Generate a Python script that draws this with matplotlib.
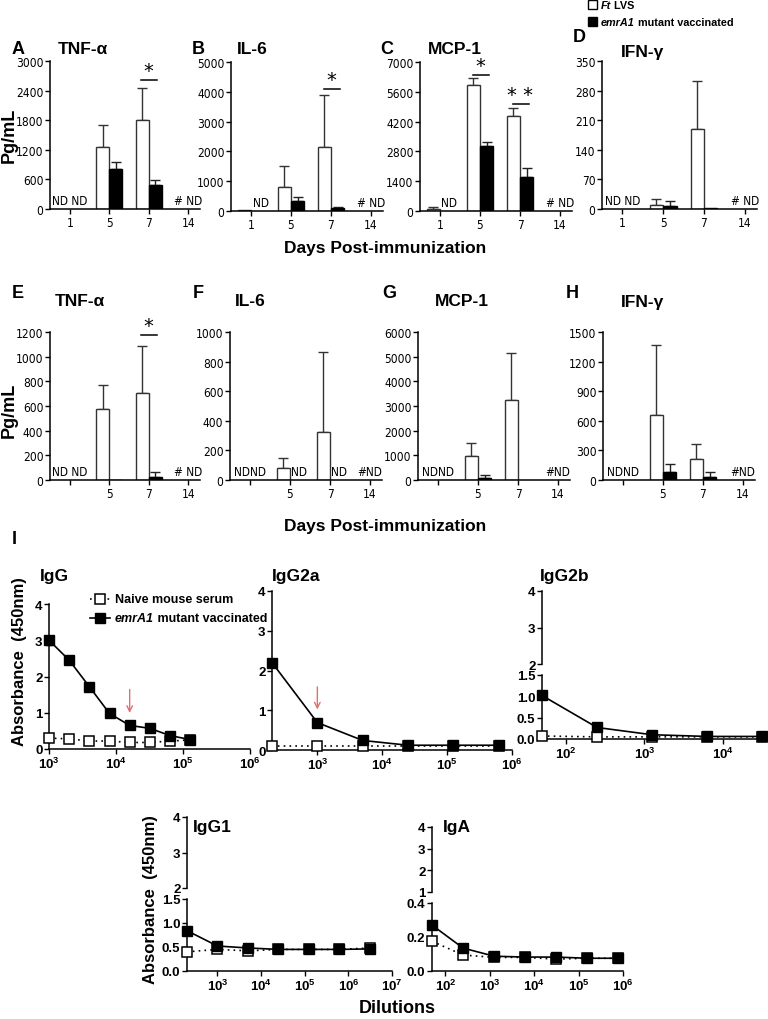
import matplotlib
matplotlib.use('Agg')
import matplotlib.pyplot as plt
import matplotlib.font_manager as fm
from matplotlib.font_manager import FontProperties
from matplotlib.lines import Line2D
from matplotlib.patches import Rectangle
from matplotlib.ticker import FixedLocator, NullLocator, LogLocator
import numpy as np

W, H = 768, 1020
plt.rcParams['font.family'] = ['Liberation Sans', 'DejaVu Sans']
plt.rcParams['mathtext.fontset'] = 'custom'
plt.rcParams['mathtext.rm'] = 'Liberation Sans'
plt.rcParams['mathtext.bf'] = 'Liberation Sans:bold'
plt.rcParams['mathtext.it'] = 'Liberation Sans:italic'


def find_narrow():
    best = None
    for f in fm.fontManager.ttflist:
        if f.style != 'normal' or f.weight not in (400, 'normal', 'regular'):
            continue
        nm = f.name.lower()
        st = str(f.stretch)
        if 'narrow' in nm or 'condensed' in nm or st in ('condensed', 'semi-condensed',
                                                          'extra-condensed'):
            score = 0 if ('narrow' in nm and 'liberation' in nm) else (
                1 if 'dejavu' in nm else 2)
            if best is None or score < best[0]:
                best = (score, f.fname)
    return best[1] if best else None


NARROW_FILE = find_narrow()


def narrow_fp(size):
    if NARROW_FILE:
        return FontProperties(fname=NARROW_FILE, size=size)
    return FontProperties(family='Liberation Sans', size=size - 1)


# ---------------- data ----------------
days = ['1', '5', '7', '14']
days_row2 = ['', '5', '7', '14']

# Row 1 (A-D)
tnf1_lvs = [0, 1250, 1800, 0];    tnf1_lvs_err = [0, 460, 650, 0]
tnf1_emr = [0, 810, 490, 0];      tnf1_emr_err = [0, 135, 95, 0]
il6_1_lvs = [25, 790, 2140, 0];   il6_1_lvs_err = [0, 730, 1760, 0]
il6_1_emr = [0, 340, 90, 0];      il6_1_emr_err = [0, 130, 55, 0]
mcp1_1_lvs = [80, 5930, 4480, 0]; mcp1_1_lvs_err = [100, 310, 350, 0]
mcp1_1_emr = [0, 3070, 1620, 0];  mcp1_1_emr_err = [0, 190, 420, 0]
ifn1_lvs = [0, 10, 189, 0];       ifn1_lvs_err = [0, 14, 114, 0]
ifn1_emr = [0, 6, 1.5, 0];        ifn1_emr_err = [0, 13, 0, 0]

# Row 2 (E-H)
tnf2_lvs = [0, 575, 706, 0];      tnf2_lvs_err = [0, 199, 377, 0]
tnf2_emr = [0, 4, 27, 0];         tnf2_emr_err = [0, 0, 38, 0]
il6_2_lvs = [0, 84, 326, 0];      il6_2_lvs_err = [0, 65, 538, 0]
il6_2_emr = [0, 0, 0, 0];         il6_2_emr_err = [0, 0, 0, 0]
mcp1_2_lvs = [0, 973, 3230, 0];   mcp1_2_lvs_err = [0, 513, 1932, 0]
mcp1_2_emr = [0, 95, 0, 0];       mcp1_2_emr_err = [0, 105, 0, 0]
ifn2_lvs = [0, 663, 217, 0];      ifn2_lvs_err = [0, 704, 146, 0]
ifn2_emr = [0, 83, 30, 0];        ifn2_emr_err = [0, 84, 50, 0]

# Antibody titres
igg_dil = [1000, 2000, 4000, 8000, 16000, 32000, 64000, 128000]
igg_naive = [0.30, 0.28, 0.22, 0.22, 0.18, 0.18, 0.22, 0.25]
igg_emr = [3.00, 2.45, 1.72, 0.98, 0.65, 0.57, 0.37, 0.26]
igg_emr_err = [0.12, 0.10, 0.05, 0.04, 0.04, 0.10, 0.05, 0.03]

igg2a_dil = [200, 1000, 5000, 25000, 125000, 625000]
igg2a_naive = [0.10, 0.10, 0.10, 0.10, 0.10, 0.10]
igg2a_emr = [2.20, 0.69, 0.24, 0.12, 0.12, 0.12]

igg2b_dil = [50, 250, 1250, 6250, 31250]
igg2b_naive = [0.07, 0.05, 0.05, 0.05, 0.05]
igg2b_emr = [1.02, 0.27, 0.10, 0.06, 0.06]

igg1_dil = [200, 1000, 5000, 25000, 125000, 625000, 3125000]
igg1_naive = [0.40, 0.45, 0.42, 0.45, 0.45, 0.45, 0.48]
igg1_emr = [0.84, 0.52, 0.48, 0.45, 0.45, 0.45, 0.46]

iga_dil = [50, 250, 1250, 6250, 31250, 156250, 781250]
iga_naive = [0.175, 0.094, 0.08, 0.08, 0.07, 0.075, 0.075]
iga_emr = [0.27, 0.135, 0.087, 0.082, 0.082, 0.075, 0.075]

# ---------------- figure ----------------
fig = plt.figure(figsize=(W / 100, H / 100), dpi=100)
renderer = fig.canvas.get_renderer()


def ax_px(l, t, r, b):
    return fig.add_axes([l / W, 1 - b / H, (r - l) / W, (b - t) / H])


def ftext(x, y, s, **kw):
    return fig.text(x / W, 1 - y / H, s, **kw)


def mixed(x, y, parts, size):
    for s, style in parts:
        t = ftext(x, y, s, fontsize=size, fontweight='bold', fontstyle=style,
                  va='center', ha='left')
        x += t.get_window_extent(renderer).width


def style_axes(ax):
    for s in ['top', 'right']:
        ax.spines[s].set_visible(False)
    for s in ['left', 'bottom']:
        ax.spines[s].set_linewidth(1.1)
    ax.tick_params(direction='out', length=3.5, width=1.0, pad=1.2)


BW = 0.33


def bar_panel(box, lvs, lvs_err, emr, emr_err, ymax, ystep, xlabels,
              notes, sig):
    ax = ax_px(*box)
    style_axes(ax)
    x = np.arange(len(days), dtype=float)
    lvs = np.array(lvs, float); emr = np.array(emr, float)
    lvs_err = np.array(lvs_err, float); emr_err = np.array(emr_err, float)
    m = lvs > 0
    ax.bar(x[m] - BW, lvs[m], width=BW, align='edge', color='white',
           edgecolor='#333333', lw=1.0, zorder=2)
    m2 = emr > 0
    ax.bar(x[m2], emr[m2], width=BW, align='edge', color='black',
           edgecolor='black', lw=1.0, zorder=2)
    me = lvs_err > 0
    ax.errorbar(x[me] - BW / 2, lvs[me], yerr=[np.zeros(me.sum()), lvs_err[me]],
                fmt='none', ecolor='#333333', elinewidth=1.0, capsize=3.5,
                capthick=1.0, zorder=1)
    me2 = emr_err > 0
    ax.errorbar(x[me2] + BW / 2, emr[me2], yerr=[np.zeros(me2.sum()), emr_err[me2]],
                fmt='none', ecolor='#222222', elinewidth=1.0, capsize=3.5,
                capthick=1.0, zorder=1)
    ax.set_xlim(-0.5, 3.3)
    ax.set_ylim(0, ymax)
    ax.set_yticks(np.arange(0, ymax + 1, ystep))
    ax.set_xticks(x)
    ax.set_xticklabels(xlabels)
    for lab in ax.get_xticklabels() + ax.get_yticklabels():
        lab.set_fontproperties(narrow_fp(8.6))
    for xi, s in notes:
        ax.annotate(s, (xi, 0), xytext=(0, 1.5), textcoords='offset points',
                    ha='center', va='bottom', fontproperties=narrow_fp(8.5))
    for xi, yv, s in sig:
        ax.plot([xi - BW / 2 - 0.02, xi + BW / 2 + 0.05], [yv, yv], color='black',
                lw=1.1, clip_on=False)
        ax.text(xi, yv, s, ha='center', va='bottom', fontsize=14,
                family='DejaVu Sans', clip_on=False)
    return ax


# Row 1
bar_panel((50, 62, 200, 210), tnf1_lvs, tnf1_lvs_err, tnf1_emr, tnf1_emr_err,
          3000, 600, days, [(0, 'ND ND'), (3, '# ND')], [(2, 2620, '*')])
bar_panel((231, 63, 383, 212), il6_1_lvs, il6_1_lvs_err, il6_1_emr, il6_1_emr_err,
          5000, 1000, days, [(0.25, 'ND'), (3, '# ND')], [(2, 4100, '*')])
bar_panel((420, 63, 572, 212), mcp1_1_lvs, mcp1_1_lvs_err, mcp1_1_emr, mcp1_1_emr_err,
          7000, 1400, days, [(0.22, 'ND'), (3, '# ND')],
          [(1, 6400, '*'), (2, 5030, '* *')])
bar_panel((602, 62, 757, 210), ifn1_lvs, ifn1_lvs_err, ifn1_emr, ifn1_emr_err,
          350, 70, days, [(0, 'ND ND'), (3, '# ND')], [])

# Row 2
bar_panel((50, 333, 200, 481), tnf2_lvs, tnf2_lvs_err, tnf2_emr, tnf2_emr_err,
          1200, 200, days_row2, [(0, 'ND ND'), (3, '# ND')], [(2, 1178, '*')])
bar_panel((230, 333, 382, 481), il6_2_lvs, il6_2_lvs_err, il6_2_emr, il6_2_emr_err,
          1000, 200, days_row2,
          [(0, 'NDND'), (1.22, 'ND'), (2.22, 'ND'), (3, '#ND')], [])
bar_panel((418, 333, 570, 481), mcp1_2_lvs, mcp1_2_lvs_err, mcp1_2_emr, mcp1_2_emr_err,
          6000, 1000, days_row2, [(0, 'NDND'), (3, '#ND')], [])
bar_panel((603, 333, 755, 481), ifn2_lvs, ifn2_lvs_err, ifn2_emr, ifn2_emr_err,
          1500, 300, days_row2, [(0, 'NDND'), (3, '#ND')], [])

# panel letters & titles
for (x, y, s) in [(12, 50, 'A'), (192, 50, 'B'), (380, 50, 'C'), (573, 38, 'D'),
                  (12, 293, 'E'), (193, 293, 'F'), (382, 293, 'G'), (566, 293, 'H'),
                  (12, 540, 'I')]:
    ftext(x, y, s, fontsize=13, fontweight='bold', ha='left', va='center')
for (x, y, s) in [(83, 50, 'TNF-α'), (252, 50, 'IL-6'), (455, 50, 'MCP-1'),
                  (643, 52, 'IFN-γ'),
                  (80, 302, 'TNF-α'), (250, 302, 'IL-6'), (462, 302, 'MCP-1'),
                  (642, 302, 'IFN-γ')]:
    ftext(x, y, s, fontsize=12.5, fontweight='bold', ha='center', va='center')

ftext(9, 135, 'Pg/mL', fontsize=13, fontweight='bold', rotation=90,
      ha='center', va='center')
ftext(9, 410, 'Pg/mL', fontsize=13, fontweight='bold', rotation=90,
      ha='center', va='center')
ftext(385, 249, 'Days Post-immunization', fontsize=12.5, fontweight='bold',
      ha='center', va='center')
ftext(385, 527, 'Days Post-immunization', fontsize=12.5, fontweight='bold',
      ha='center', va='center')

# top legend
fig.add_artist(Rectangle((588 / W, 1 - 10 / H), 9 / W, 9 / H, transform=fig.transFigure,
                         facecolor='white', edgecolor='black', lw=1))
fig.add_artist(Rectangle((588 / W, 1 - 27 / H), 9 / W, 9 / H, transform=fig.transFigure,
                         facecolor='black', edgecolor='black', lw=1))
mixed(601, 6, [('Ft', 'italic'), (' LVS', 'normal')], 7.8)
mixed(601, 23, [('emrA1', 'italic'), (' mutant vaccinated', 'normal')], 7.8)


# ---------------- line panels ----------------
def log_ticks(ax, decades, minor=False):
    ax.set_xscale('log')
    ax.xaxis.set_major_locator(FixedLocator([10.0 ** d for d in decades]))
    ax.set_xticklabels([r'$\mathbf{10^{%d}}$' % d for d in decades])
    if minor:
        ax.xaxis.set_minor_locator(LogLocator(base=10, subs=np.arange(2, 10)))
        ax.tick_params(axis='x', which='minor', length=2, width=0.8)
    else:
        ax.xaxis.set_minor_locator(NullLocator())
    for lab in ax.get_xticklabels():
        lab.set_fontsize(9.5)


def plot_series(ax, x, naive, emr, emr_err=None):
    ax.plot(x, naive, ls=(0, (1, 2.5)), color='black', lw=1.2, marker='s',
            mfc='white', mec='black', ms=7.5, mew=1.1, zorder=3, clip_on=False)
    ax.errorbar(x, emr, yerr=emr_err, ls='-', color='black', lw=1.2, marker='s',
                mfc='black', mec='black', ms=7.5, capsize=2.5, elinewidth=1.0,
                zorder=4, clip_on=False)


def ytick_font(ax, size=9.5):
    for lab in ax.get_yticklabels():
        lab.set_fontweight('bold')
        lab.set_fontsize(size)


# IgG
ax = ax_px(49, 605, 250, 750)
style_axes(ax)
plot_series(ax, igg_dil, igg_naive, igg_emr, igg_emr_err)
ax.set_xlim(1e3, 1e6)
ax.set_ylim(0, 4)
ax.set_yticks([0, 1, 2, 3, 4])
log_ticks(ax, [3, 4, 5, 6])
ytick_font(ax)
ax.annotate('', xy=(1.6e4, 0.92), xytext=(1.6e4, 1.72),
            arrowprops=dict(arrowstyle='->', color='#e07070', lw=1.0))

# IgG2a
ax = ax_px(272, 592, 512, 751)
style_axes(ax)
plot_series(ax, igg2a_dil, igg2a_naive, igg2a_emr)
ax.set_xlim(200, 1e6)
ax.set_ylim(0, 4)
ax.set_yticks([0, 1, 2, 3, 4])
log_ticks(ax, [3, 4, 5, 6])
ytick_font(ax)
ax.annotate('', xy=(1000, 0.95), xytext=(1000, 1.66),
            arrowprops=dict(arrowstyle='->', color='#e07070', lw=1.0))


def broken(box_up, box_lo, x, naive, emr, xlim, decades, up_ticks, lo_ticks,
           lo_fmt, minor=False):
    au = ax_px(*box_up)
    al = ax_px(*box_lo)
    style_axes(au)
    style_axes(al)
    au.spines['bottom'].set_visible(False)
    au.set_xscale('log')
    au.set_xlim(*xlim)
    au.set_xticks([])
    au.xaxis.set_minor_locator(NullLocator())
    au.set_ylim(up_ticks[0], up_ticks[-1])
    au.set_yticks(up_ticks)
    au.set_yticklabels([str(int(v)) for v in up_ticks])
    ytick_font(au)
    plot_series(al, x, naive, emr)
    al.set_xlim(*xlim)
    al.set_ylim(lo_ticks[0], lo_ticks[-1])
    al.set_yticks(lo_ticks)
    al.set_yticklabels([lo_fmt % v for v in lo_ticks])
    log_ticks(al, decades, minor)
    ytick_font(al)
    return au, al


broken((542, 592, 765, 665), (542, 676, 765, 740), igg2b_dil, igg2b_naive, igg2b_emr,
       (50, 3.4e4), [2, 3, 4], [2, 3, 4], [0, 0.5, 1.0, 1.5], '%.1f')
broken((187, 818, 392, 889), (187, 900, 392, 972), igg1_dil, igg1_naive, igg1_emr,
       (200, 1e7), [3, 4, 5, 6, 7], [2, 3, 4], [0, 0.5, 1.0, 1.5], '%.1f', minor=True)
broken((432, 828, 623, 893), (432, 904, 623, 972), iga_dil, iga_naive, iga_emr,
       (50, 1e6), [2, 3, 4, 5, 6], [1, 2, 3, 4], [0, 0.2, 0.4], '%.1f')

for (x, y, s) in [(40, 577, 'IgG'), (272, 577, 'IgG2a'), (540, 577, 'IgG2b'),
                  (193, 828, 'IgG1'), (443, 828, 'IgA')]:
    ftext(x, y, s, fontsize=12.5, fontweight='bold', ha='left', va='center')

ftext(20, 662, 'Absorbance  (450nm)', fontsize=12, fontweight='bold', rotation=90,
      ha='center', va='center')
ftext(150, 900, 'Absorbance  (450nm)', fontsize=12, fontweight='bold', rotation=90,
      ha='center', va='center')
ftext(397, 1009, 'Dilutions', fontsize=13, fontweight='bold', ha='center', va='center')

# IgG legend
fig.add_artist(Line2D([90 / W, 110 / W], [1 - 600 / H, 1 - 600 / H],
                      transform=fig.transFigure, ls=(0, (1, 2.5)), color='black', lw=1.2))
fig.add_artist(Line2D([100 / W], [1 - 600 / H], transform=fig.transFigure, marker='s',
                      mfc='white', mec='black', ms=7, mew=1.1, ls='none'))
fig.add_artist(Line2D([90 / W, 110 / W], [1 - 619 / H, 1 - 619 / H],
                      transform=fig.transFigure, ls='-', color='black', lw=1.2))
fig.add_artist(Line2D([100 / W], [1 - 619 / H], transform=fig.transFigure, marker='s',
                      mfc='black', mec='black', ms=7, ls='none'))
mixed(115, 600, [('Naive mouse serum', 'normal')], 9)
mixed(115, 619, [('emrA1', 'italic'), (' mutant vaccinated', 'normal')], 9)

fig.savefig('out.png', dpi=100)
